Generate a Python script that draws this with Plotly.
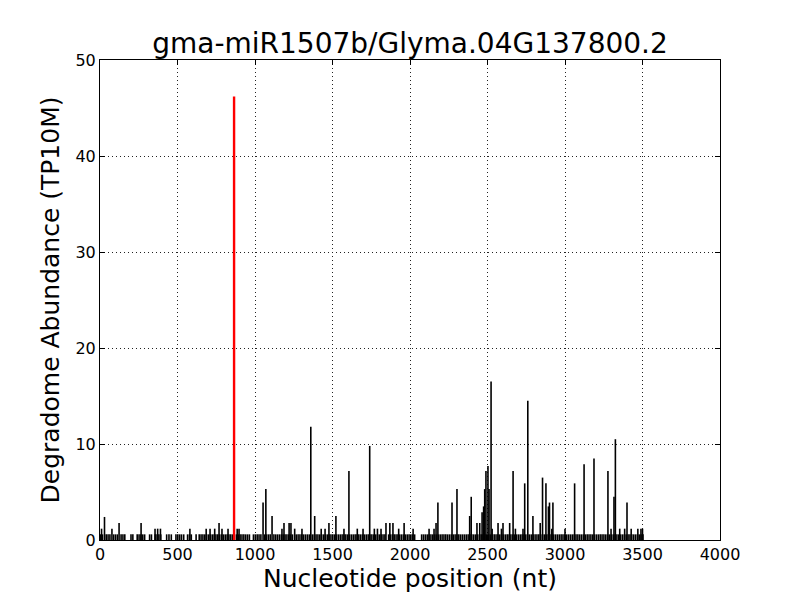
import plotly.graph_objects as go

# background low-abundance positions (value = 0.59 TP10M)
low_pos = [5, 16, 40, 52, 64, 88, 100, 112, 136, 148, 160, 200, 212, 240, 252, 264, 276, 288, 320, 332,
           356, 368, 380, 392, 430, 445, 460, 490, 502, 514, 526, 540, 565, 577, 589, 620, 640, 652, 664,
           676, 688, 700, 712, 724, 736, 748, 760, 772, 784, 796, 808, 820, 832, 844, 856, 880, 892, 904,
           916, 928, 940, 952, 964, 990, 1002, 1014, 1026, 1038, 1062, 1074, 1086, 1098, 1122, 1134, 1146,
           1158, 1170, 1182, 1194, 1206, 1218, 1230, 1242, 1266, 1278, 1290, 1302, 1314, 1326, 1338, 1350,
           1370, 1382, 1394, 1406, 1418, 1430, 1442, 1454, 1466, 1478, 1490, 1502, 1514, 1526, 1538, 1550,
           1562, 1574, 1586, 1598, 1610, 1622, 1634, 1646, 1658, 1670, 1682, 1694, 1706, 1718, 1730, 1742,
           1754, 1766, 1778, 1790, 1802, 1814, 1826, 1838, 1862, 1874, 1886, 1898, 1910, 1922, 1934, 1946,
           1958, 1970, 1982, 1994, 2006, 2018, 2030, 2075, 2087, 2099, 2111, 2123, 2135, 2147, 2159, 2171,
           2183, 2195, 2207, 2219, 2231, 2243, 2255, 2267, 2279, 2291, 2303, 2315, 2327, 2339, 2351, 2363,
           2375, 2387, 2399, 2411, 2423, 2435, 2447, 2459, 2471, 2483, 2495, 2507, 2519, 2531, 2543, 2555,
           2567, 2579, 2591, 2603, 2615, 2627, 2639, 2651, 2663, 2675, 2687, 2699, 2711, 2723, 2735, 2747,
           2759, 2771, 2783, 2795, 2807, 2819, 2831, 2843, 2855, 2867, 2879, 2891, 2903, 2915, 2927, 2939,
           2951, 2963, 2975, 2987, 2999, 3011, 3023, 3035, 3047, 3059, 3071, 3083, 3095, 3107, 3119, 3131,
           3143, 3155, 3167, 3179, 3191, 3203, 3215, 3227, 3239, 3251, 3263, 3275, 3287, 3299, 3311, 3323,
           3335, 3347, 3359, 3371, 3383, 3395, 3407, 3419, 3431, 3443, 3455, 3467, 3479, 3491, 3503]
low_val = 0.59

# other peaks
peak_pos = [10, 29, 77, 123, 265, 355, 372, 390, 580, 685, 710, 740, 768, 787, 826, 885, 897,
            1052, 1070, 1110, 1174, 1187, 1220, 1232, 1256, 1303, 1360, 1385, 1427, 1452, 1477, 1522,
            1574, 1606, 1660, 1697, 1740, 1770, 1790, 1813, 1845, 1870, 1890, 1927, 1962, 2020, 2123,
            2155, 2168, 2180, 2271, 2303, 2385, 2395, 2432, 2450, 2465, 2475, 2482, 2490, 2503, 2510,
            2523, 2530, 2568, 2590, 2600, 2643, 2665, 2680, 2729, 2740, 2760, 2793, 2840, 2855, 2877,
            2893, 2900, 2915, 2922, 3000, 3062, 3123, 3187, 3277, 3297, 3316, 3325, 3353, 3385, 3400,
            3427, 3470, 3490, 3500]
peak_val = [1.18, 2.4, 1.18, 1.77, 1.77, 1.18, 1.18, 1.18, 1.18, 1.18, 1.18, 1.18, 1.77, 1.18, 1.18, 1.18, 1.18,
            3.9, 5.3, 2.5, 1.18, 1.77, 1.77, 1.77, 1.18, 1.18, 11.8, 2.5, 1.18, 1.18, 1.77, 2.5,
            1.18, 7.2, 1.18, 1.18, 9.8, 1.18, 1.18, 1.18, 1.77, 1.77, 1.77, 1.18, 1.77, 1.18, 1.18,
            1.18, 1.77, 3.9, 3.9, 5.3, 2.5, 4.5, 1.77, 1.77, 2.9, 3.5, 5.3, 7.2, 7.7, 5.3,
            16.5, 1.18, 1.77, 1.18, 1.77, 1.77, 7.2, 1.18, 1.18, 5.9, 14.5, 2.5, 1.77, 6.5, 5.9,
            3.5, 3.9, 1.18, 3.9, 1.18, 5.9, 7.9, 8.5, 7.2, 1.18, 4.5, 10.5, 1.18, 1.18, 3.9,
            1.18, 1.18, 1.18, 1.18]

# miRNA cleavage site
site_pos = [865]
site_val = [46.2]


def stems(xs, ys):
    sx, sy = [], []
    for x, y in zip(xs, ys):
        sx += [x, x, None]
        sy += [0, y, None]
    return sx, sy


bx, by = stems(low_pos + peak_pos, [low_val] * len(low_pos) + peak_val)
rx, ry = stems(site_pos, site_val)

fig = go.Figure()
fig.add_trace(go.Scatter(x=bx, y=by, mode="lines", line=dict(color="black", width=1.6),
                         hoverinfo="skip", showlegend=False))
fig.add_trace(go.Scatter(x=rx, y=ry, mode="lines", line=dict(color="red", width=2.4),
                         showlegend=False))

axis_common = dict(showline=True, linecolor="black", linewidth=1, mirror="ticks",
                   ticks="inside", ticklen=5, tickcolor="black",
                   showgrid=True, gridcolor="#222222", griddash="1px,3px", gridwidth=1,
                   zeroline=False, tickfont=dict(size=16, color="black"))

fig.update_layout(
    width=800, height=600,
    margin=dict(l=92, r=88, t=52, b=68),
    paper_bgcolor="white", plot_bgcolor="white",
    font=dict(family="DejaVu Sans", color="black"),
    title=dict(text="gma-miR1507b/Glyma.04G137800.2", x=0.5025, xanchor="center",
               y=0.942, yanchor="middle", font=dict(size=28, color="black")),
    xaxis=dict(range=[0, 4000], dtick=500, tick0=0,
               title=dict(text="Nucleotide position (nt)", font=dict(size=25), standoff=6),
               **axis_common),
    yaxis=dict(range=[0, 50], dtick=10, tick0=0,
               title=dict(text="Degradome Abundance (TP10M)", font=dict(size=25), standoff=8),
               **axis_common),
)

fig.write_html("out.html")
